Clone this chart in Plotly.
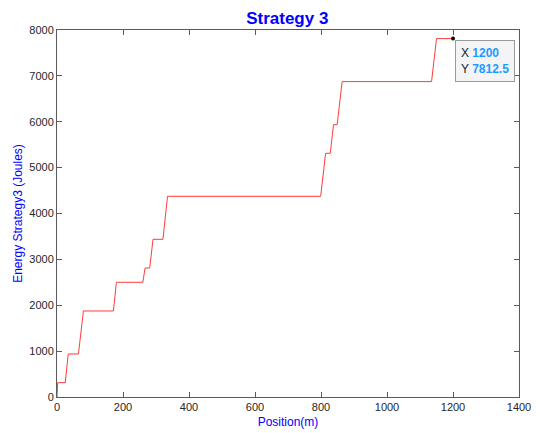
import plotly.graph_objects as go

# Vertices of the energy staircase (Position m, Energy J)
position = [0, 2, 25, 34, 65, 80, 171, 180, 260, 267, 281, 291, 321, 335,
            799, 814, 828, 838, 849, 864, 1135, 1150, 1200]
energy = [0, 312.5, 312.5, 937.5, 937.5, 1875, 1875, 2500, 2500, 2812.5,
          2812.5, 3437.5, 3437.5, 4375, 4375, 5312.5, 5312.5, 5937.5,
          5937.5, 6875, 6875, 7812.5, 7812.5]

tip_x = [1200]
tip_y = [7812.5]

x_ticks = [0, 200, 400, 600, 800, 1000, 1200, 1400]
y_ticks = [0, 1000, 2000, 3000, 4000, 5000, 6000, 7000, 8000]

font_family = "Liberation Sans, Arial, Helvetica, sans-serif"
axis_color = "#5a5a5a"

fig = go.Figure()
fig.add_trace(go.Scatter(x=position, y=energy, mode="lines",
                         line=dict(color="#ff3b3b", width=1),
                         hoverinfo="skip", showlegend=False))
fig.add_trace(go.Scatter(x=tip_x, y=tip_y, mode="markers",
                         marker=dict(color="black", size=4),
                         hoverinfo="skip", showlegend=False))

fig.add_annotation(
    x=tip_x[0], y=tip_y[0], xref="x", yref="y",
    xanchor="left", yanchor="top", xshift=2, yshift=-1,
    showarrow=False, align="left",
    text=("X <span style='color:#1a9bff'><b>%g</b></span><br>"
          "Y <span style='color:#1a9bff'><b>%g</b></span>") % (tip_x[0], tip_y[0]),
    font=dict(family=font_family, size=12, color="#222"),
    bgcolor="#f4f4f6", bordercolor="#9a9a9a", borderwidth=1, borderpad=5,
)

fig.update_layout(
    width=532, height=425,
    paper_bgcolor="white", plot_bgcolor="white",
    margin=dict(l=49, r=21, t=22, b=36, autoexpand=False),
    title=dict(text="<b>Strategy 3</b>", x=0.525, xanchor="center",
               y=0.976, yanchor="middle",
               font=dict(family=font_family, size=17, color="#0000ff")),
    font=dict(family=font_family, size=11, color="#262626"),
)
fig.update_xaxes(
    range=[0, 1400], tickvals=x_ticks, ticktext=[str(v) for v in x_ticks],
    showgrid=False, zeroline=False, automargin=False,
    showline=True, mirror="allticks", linecolor=axis_color, linewidth=1,
    ticks="inside", ticklen=5, tickcolor=axis_color,
    tickfont=dict(size=11, color="#262626"),
    title=dict(text="Position(m)", standoff=5,
               font=dict(size=12, color="#0000ff")),
)
fig.update_yaxes(
    range=[0, 8000], tickvals=y_ticks, ticktext=[str(v) for v in y_ticks],
    showgrid=False, zeroline=False, automargin=False,
    showline=True, mirror="allticks", linecolor=axis_color, linewidth=1,
    ticks="inside", ticklen=5, tickcolor=axis_color,
    tickfont=dict(size=11, color="#262626"),
    title=dict(text="Energy Strategy3 (Joules)", standoff=4,
               font=dict(size=12, color="#0000ff")),
)

fig.write_html("out.html")
